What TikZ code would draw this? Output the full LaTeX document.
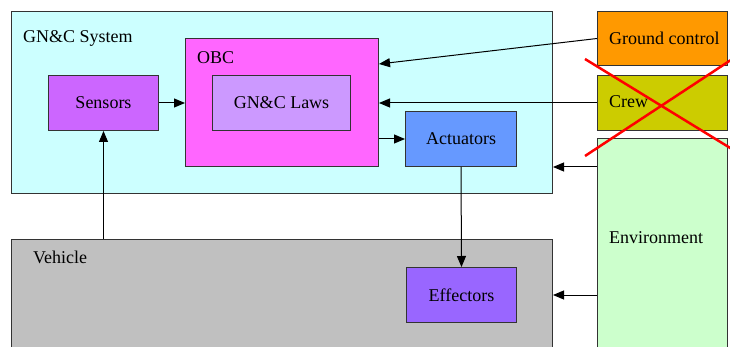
\documentclass[tikz,border=0pt]{standalone}
\usepackage{fontspec}
\setmainfont{Liberation Serif}
\usetikzlibrary{arrows.meta,calc}
\definecolor{sysc}{HTML}{CCFFFF}
\definecolor{obcc}{HTML}{FF66FF}
\definecolor{sensc}{HTML}{CC66FF}
\definecolor{lawc}{HTML}{CC99FF}
\definecolor{actc}{HTML}{6699FF}
\definecolor{effc}{HTML}{9966FF}
\definecolor{gndc}{HTML}{FF9900}
\definecolor{crewc}{HTML}{CCCC00}
\definecolor{envc}{HTML}{CCFFCC}
\definecolor{vehc}{HTML}{C0C0C0}
\definecolor{edgec}{HTML}{333333}
\begin{document}
\begin{tikzpicture}[x=1pt,y=-1pt,
  blk/.style={draw=edgec,line width=1pt,inner sep=0pt,anchor=north west},
  lbl/.style={anchor=west,inner sep=0pt},
  arr/.style={-{Triangle[length=11pt,width=9pt]},line width=1pt},
  font=\fontsize{18}{20}\selectfont]

\clip (0,0) rectangle (730,347);

% outer blocks
\node [blk,fill=sysc,minimum width=541pt,minimum height=182pt] (sys) at (11,11) {};
\node [blk,fill=vehc,minimum width=541pt,minimum height=130pt] (veh) at (11,239) {};
\node [blk,fill=gndc,minimum width=130pt,minimum height=54pt] (gnd) at (597,11) {};
\node [blk,fill=crewc,minimum width=130pt,minimum height=55pt] (crew) at (597,75) {};
\node [blk,fill=envc,minimum width=130pt,minimum height=230pt] (env) at (597,138) {};

% inner blocks
\node [blk,fill=obcc,minimum width=193pt,minimum height=128pt] (obc) at (185,38) {};
\node [blk,fill=lawc,minimum width=138pt,minimum height=55pt] (laws) at (212,75) {};
\node [blk,fill=sensc,minimum width=110pt,minimum height=55pt] (sens) at (48,75) {};
\node [blk,fill=actc,minimum width=111pt,minimum height=55pt] (act) at (405,111) {};
\node [blk,fill=effc,minimum width=110pt,minimum height=55pt] (eff) at (406,267) {};

% texts
\node at (laws) {GN\&C Laws};
\node at (sens) {Sensors};
\node at (act) {Actuators};
\node at (eff) {Effectors};
\node [lbl] (sysl) at (23,38) {GN\&C System};
\node [lbl] (obcl) at (197,58) {OBC};
\node [lbl] (vehl) at (33,257) {Vehicle};
\node [lbl] (gndl) at (609,38) {Ground control};
\node [lbl] (crewl) at (609,102) {Crew};
\node [lbl] (envl) at (609,238) {Environment};

% connectors
\draw [arr] (sens) -- (sens -| obc.west);
\draw [arr] (sens.south |- veh.north) -- (sens.south);
\draw [arr] (gnd.west) -- ($(obc.north east)+(0,26)$);
\draw [arr] (crew.west) -- (crew.west -| obc.east);
\draw [arr] (act.west -| obc.east) -- (act.west);
\draw [arr] (env.west |- act.south) -- (sys.east |- act.south);
\draw [arr] (act.south) -- (eff.north);
\draw [arr] (env.west |- eff) -- (veh.east |- eff);

% crossed out
\draw [red,line width=2.5pt] (585,59) -- (740,154);
\draw [red,line width=2.5pt] (585,156) -- (740,54);

\end{tikzpicture}
\end{document}
